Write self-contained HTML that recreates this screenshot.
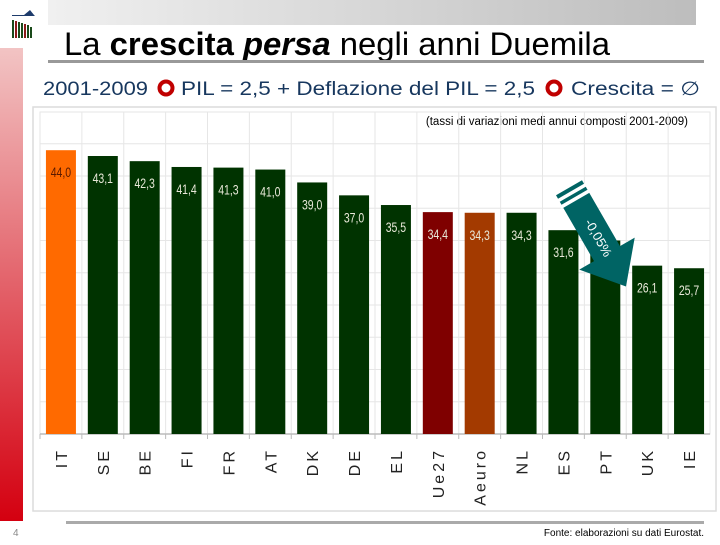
<!DOCTYPE html>
<html><head><meta charset="utf-8"><style>
body{margin:0;width:720px;height:540px;overflow:hidden;background:#fff;font-family:"Liberation Sans",sans-serif;}
</style></head><body>
<svg width="720" height="540" viewBox="0 0 720 540" xmlns="http://www.w3.org/2000/svg">
<defs>
<linearGradient id="hdr" x1="0" x2="1"><stop offset="0" stop-color="#f0f0f0"/><stop offset="1" stop-color="#bdbdbd"/></linearGradient>
<linearGradient id="red" x1="0" y1="0" x2="0" y2="1"><stop offset="0" stop-color="#f2c4c4"/><stop offset="1" stop-color="#d40010"/></linearGradient>
</defs>
<rect x="48" y="0" width="648" height="25" fill="url(#hdr)"/>
<rect x="0" y="48" width="23" height="473" fill="url(#red)"/>
<g>
<rect x="11" y="9" width="25" height="31" fill="#fff"/>
<path d="M12 15 L24 15 L30 10 L34 15 L35 16 L12 16Z" fill="#1d3b6b"/>
<rect x="12" y="20" width="2" height="18" fill="#1a4a1a"/><rect x="15" y="21" width="2" height="17" fill="#8a1a1a"/><rect x="18" y="22" width="2" height="16" fill="#1a4a1a"/><rect x="21" y="23" width="2" height="15" fill="#1a4a1a"/><rect x="24" y="24" width="2" height="14" fill="#8a1a1a"/><rect x="27" y="25" width="2" height="13" fill="#1a4a1a"/><rect x="30" y="27" width="2" height="11" fill="#1a4a1a"/>
</g>
<text x="64" y="55" font-size="32" fill="#000" textLength="546" lengthAdjust="spacingAndGlyphs">La <tspan font-weight="bold">crescita</tspan> <tspan font-weight="bold" font-style="italic">persa</tspan> negli anni Duemila</text>
<rect x="48" y="60" width="656" height="3" fill="#999"/>
<g font-size="19" fill="#17375e">
<text x="43" y="95" textLength="105" lengthAdjust="spacingAndGlyphs">2001-2009</text>
<circle cx="166" cy="88" r="6.5" fill="none" stroke="#c00000" stroke-width="4"/>
<text x="181" y="95" textLength="354" lengthAdjust="spacingAndGlyphs">PIL = 2,5 + Deflazione del PIL = 2,5</text>
<circle cx="554" cy="88" r="6.5" fill="none" stroke="#c00000" stroke-width="4"/>
<text x="571" y="95" textLength="129" lengthAdjust="spacingAndGlyphs">Crescita = ∅</text>
</g>
<rect x="33" y="107" width="683" height="404" fill="#fff" stroke="#dcdcdc" stroke-width="1.5"/>
<text x="688" y="125" font-size="11.5" text-anchor="end" fill="#000">(tassi di variazioni medi annui composti 2001-2009)</text>
<g id="chart"></g>
<rect x="66" y="521" width="638" height="3" fill="#aaa"/>
<text x="13" y="536" font-size="10" fill="#888">4</text>
<text x="704" y="536" font-size="10" text-anchor="end" fill="#000">Fonte: elaborazioni su dati Eurostat.</text>
</svg>
<script>
const categories=["IT","SE","BE","FI","FR","AT","DK","DE","EL","Ue27","Aeuro","NL","ES","PT","UK","IE"];
const values=[44.0,43.1,42.3,41.4,41.3,41.0,39.0,37.0,35.5,34.4,34.3,34.3,31.6,30.0,26.1,25.7];
const valueLabels=["44,0","43,1","42,3","41,4","41,3","41,0","39,0","37,0","35,5","34,4","34,3","34,3","31,6","30,0","26,1","25,7"];
const barColors=["#ff6a00","#003300","#003300","#003300","#003300","#003300","#003300","#003300","#003300","#7f0000","#a33a00","#003300","#003300","#003300","#003300","#003300"];
const gridValues=[5,10,15,20,25,30,35,40,45];
const NS="http://www.w3.org/2000/svg";
const g=document.getElementById('chart');
const L=40,R=710,B=434,scale=6.45,T=112;
const slot=(R-L)/categories.length;
const y=v=>B-v*scale;
const x=i=>L+i*slot;
function mk(t,a){const e=document.createElementNS(NS,t);for(const k in a)e.setAttribute(k,a[k]);g.appendChild(e);return e;}
const pa=mk('rect',{x:L,y:T,width:R-L,height:B-T,fill:'none',stroke:'#e6e6e6'});


gridValues.forEach(v=>{const l=mk('line',{x1:L,x2:R,y1:y(v),y2:y(v),stroke:'#e6e6e6'});

});
for(let i=1;i<categories.length;i++){const l=mk('line',{x1:x(i),x2:x(i),y1:T,y2:B,stroke:'#e6e6e6'});

}
const ax=mk('line',{x1:L,x2:R,y1:B,y2:B,stroke:'#bbb','stroke-width':1.5});


categories.forEach((c,i)=>{
const t=mk('line',{x1:x(i),x2:x(i),y1:B,y2:B+5,stroke:'#bbb'});


const cx=x(i)+slot/2;
const r=mk('rect',{x:cx-15,y:y(values[i]),width:30,height:B-y(values[i]),fill:barColors[i]});


const vt=mk('text',{x:cx,y:y(values[i])+27,'font-size':14,'text-anchor':'middle',fill:i===0?'#5a1a00':'#e8e8d8'});
vt.setAttribute('transform',`translate(${cx},0) scale(0.75,1) translate(${-cx},0)`);
vt.textContent=valueLabels[i];


const lt=mk('text',{x:0,y:0,'font-size':16,'text-anchor':'end','letter-spacing':3,fill:'#222',transform:`translate(${cx+6},448) rotate(-90)`});
lt.textContent=c;


});
const ar=document.createElementNS(NS,'g');
ar.setAttribute('transform','translate(598,238) rotate(-30)');


ar.innerHTML='<polygon points="-15,-58 15,-58 15,18 32,18 0,56 -32,18 -15,18" fill="#006464"/><rect x="-17" y="-54" width="34" height="3.5" fill="#fff"/><rect x="-17" y="-47" width="34" height="3.5" fill="#fff"/><text x="0" y="0" transform="rotate(90)" font-size="13" fill="#fff" text-anchor="middle" dy="4">-0,05%</text>';
g.appendChild(ar);
</script>
</body></html>
